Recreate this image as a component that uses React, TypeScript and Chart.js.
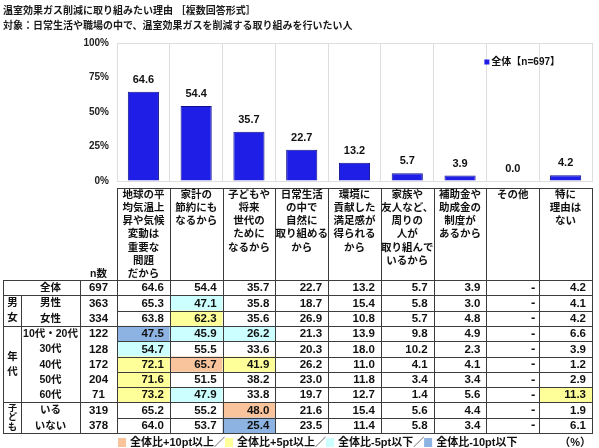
import React, { useEffect, useRef } from 'react';
import { Chart, registerables } from 'chart.js';

Chart.register(...registerables);

const FONT = '"Liberation Sans", "Noto Sans CJK JP", sans-serif';

const titleText = '温室効果ガス削減に取り組みたい理由 ［複数回答形式］';
const subtitleText = '対象：日常生活や職場の中で、温室効果ガスを削減する取り組みを行いたい人';
const seriesLabel = '全体【n=697】';

const categories: string[][] = [
  ['地球の平', '均気温上', '昇や気候', '変動は', '重要な', '問題', 'だから'],
  ['家計の', '節約にも', 'なるから'],
  ['子どもや', '将来', '世代の', 'ために', 'なるから'],
  ['日常生活', 'の中で', '自然に', '取り組める', 'から'],
  ['環境に', '貢献した', '満足感が', '得られる', 'から'],
  ['家族や', '友人など、', '周りの', '人が', '取り組んで', 'いるから'],
  ['補助金や', '助成金の', '制度が', 'あるから'],
  ['その他'],
  ['特に', '理由は', 'ない'],
];

const totalValues = [64.6, 54.4, 35.7, 22.7, 13.2, 5.7, 3.9, 0.0, 4.2];

const yTickValues = [0, 25, 50, 75, 100];

const rowLabels = ['全体', '男性', '女性', '10代・20代', '30代', '40代', '50代', '60代', 'いる', 'いない'];
const rowN = [697, 363, 334, 122, 128, 172, 204, 71, 319, 378];

const rowAll = [64.6, 54.4, 35.7, 22.7, 13.2, 5.7, 3.9, null, 4.2];
const rowMale = [65.3, 47.1, 35.8, 18.7, 15.4, 5.8, 3.0, null, 4.1];
const rowFemale = [63.8, 62.3, 35.6, 26.9, 10.8, 5.7, 4.8, null, 4.2];
const row1020 = [47.5, 45.9, 26.2, 21.3, 13.9, 9.8, 4.9, null, 6.6];
const row30 = [54.7, 55.5, 33.6, 20.3, 18.0, 10.2, 2.3, null, 3.9];
const row40 = [72.1, 65.7, 41.9, 26.2, 11.0, 4.1, 4.1, null, 1.2];
const row50 = [71.6, 51.5, 38.2, 23.0, 11.8, 3.4, 3.4, null, 2.9];
const row60 = [73.2, 47.9, 33.8, 19.7, 12.7, 1.4, 5.6, null, 11.3];
const rowKids = [65.2, 55.2, 48.0, 21.6, 15.4, 5.6, 4.4, null, 1.9];
const rowNoKids = [64.0, 53.7, 25.4, 23.5, 11.4, 5.8, 3.4, null, 6.1];
const rowValues: (number | null)[][] = [rowAll, rowMale, rowFemale, row1020, row30, row40, row50, row60, rowKids, rowNoKids];

const groupLabels = ['男女', '年代', '子ども'];
const groupStarts = [1, 3, 8];
const groupSizes = [2, 5, 2];

const legendTexts = ['全体比+10pt以上／', '全体比+5pt以上／', '全体比-5pt以下／', '全体比-10pt以下'];
const legendColors = ['#F9C39B', '#FFFF99', '#CCFFFF', '#8DB3E2'];
const unitText = '（%）';

const BAR_COLOR = '#1E1EE6';
const BAR_BORDER = '#10108C';
const LINE = '#3c3c3c';
const GRID = '#dedede';
const TEXT = '#111111';

function highlightColor(v: number | null, base: number | null): string | null {
  if (v == null || base == null) return null;
  const d = Math.round((v - base) * 10) / 10;
  if (d >= 10) return legendColors[0];
  if (d >= 5) return legendColors[1];
  if (d <= -10) return legendColors[3];
  if (d <= -5) return legendColors[2];
  return null;
}

const px = (v: number) => Math.round(v) + 0.5;

const valueLabelPlugin = {
  id: 'valueLabels',
  afterDatasetsDraw(chart: any) {
    const ctx = chart.ctx;
    const meta = chart.getDatasetMeta(0);
    const data = chart.data.datasets[0].data as number[];
    ctx.save();
    ctx.font = `bold 11px ${FONT}`;
    ctx.fillStyle = TEXT;
    ctx.textAlign = 'center';
    ctx.textBaseline = 'middle';
    meta.data.forEach((bar: any, i: number) => {
      ctx.fillText(Number(data[i]).toFixed(1), bar.x, bar.y - 12);
    });
    ctx.restore();
  },
};

const tablePlugin = {
  id: 'surveyTable',
  afterDraw(chart: any) {
    const ctx = chart.ctx as CanvasRenderingContext2D;
    const xs = chart.scales.x;
    const ys = chart.scales.y;
    const hdr = chart.scales.hdr;
    const rows = chart.scales.rows;
    const ca = chart.chartArea;

    const colHalf = (xs.getPixelForValue(1) - xs.getPixelForValue(0)) / 2;
    const left = rows.left;
    const groupRight = left + 18;
    const labelRight = left + 77;
    const nRight = ca.left;
    const right = ca.right;
    const headTop = hdr.top + 6.5;
    const rowH = rows.getPixelForValue(1) - rows.getPixelForValue(0);
    const rowTop = (i: number) => rows.getPixelForValue(0) - rowH / 2 + i * rowH;
    const bottom = rowTop(rowLabels.length);

    ctx.save();
    ctx.fillStyle = '#ffffff';
    ctx.fillRect(ca.left - 1, ys.bottom + 1, ca.right - ca.left + 3, chart.height - ys.bottom);

    rowValues.forEach((vals, r) => {
      vals.forEach((v, c) => {
        const col = highlightColor(v, rowValues[0][c]);
        if (col) {
          const cx = xs.getPixelForValue(c);
          ctx.fillStyle = col;
          ctx.fillRect(cx - colHalf, rowTop(r), colHalf * 2, rowH);
        }
      });
    });

    ctx.strokeStyle = LINE;
    ctx.lineWidth = 1;
    const hLine = (x1: number, x2: number, y: number) => {
      ctx.beginPath(); ctx.moveTo(Math.round(x1), px(y)); ctx.lineTo(Math.round(x2) + 1, px(y)); ctx.stroke();
    };
    const vLine = (x: number, y1: number, y2: number) => {
      ctx.beginPath(); ctx.moveTo(px(x), Math.round(y1)); ctx.lineTo(px(x), Math.round(y2) + 1); ctx.stroke();
    };
    hLine(nRight, right, headTop);
    for (let r = 0; r <= rowLabels.length; r++) {
      const isGroupEdge = r === 0 || r === rowLabels.length || groupStarts.includes(r);
      hLine(isGroupEdge ? left : nRight, right, rowTop(r));
    }
    vLine(left, rowTop(0), bottom);
    vLine(groupRight, rowTop(1), bottom);
    vLine(labelRight, rowTop(0), bottom);
    vLine(nRight, headTop, bottom);
    categories.forEach((_, c) => {
      vLine(xs.getPixelForValue(c) + colHalf, headTop, bottom);
    });

    ctx.fillStyle = TEXT;
    ctx.textBaseline = 'middle';
    ctx.textAlign = 'center';
    ctx.font = `bold 10.5px ${FONT}`;
    (chart.data.labels as string[][]).forEach((lines, c) => {
      const cx = xs.getPixelForValue(c);
      lines.forEach((line, k) => {
        ctx.fillText(line, cx, headTop + 7.5 + k * 13.2);
      });
    });
    ctx.fillText('n数', (labelRight + nRight) / 2, hdr.bottom - 6);

    rowLabels.forEach((label, r) => {
      const cy = rowTop(r) + rowH / 2 + 0.5;
      ctx.font = `bold 10.5px ${FONT}`;
      ctx.textAlign = 'center';
      ctx.fillText(label, (groupRight + labelRight) / 2, cy);
      ctx.font = `bold 11.5px ${FONT}`;
      ctx.fillText(String(rowN[r]), (labelRight + nRight) / 2, cy);
    });

    rowValues.forEach((vals, r) => {
      const cy = rowTop(r) + rowH / 2 + 0.5;
      vals.forEach((v, c) => {
        const cx = xs.getPixelForValue(c);
        ctx.textAlign = 'right';
        if (v == null) {
          ctx.font = `bold 13px ${FONT}`;
          ctx.fillText('-', cx + colHalf - 4, cy);
        } else {
          ctx.font = `bold 11.5px ${FONT}`;
          ctx.fillText(v.toFixed(1), cx + colHalf - 6, cy);
        }
      });
    });

    groupLabels.forEach((label, g) => {
      const top = rowTop(groupStarts[g]);
      const bot = rowTop(groupStarts[g] + groupSizes[g]);
      const chars = Array.from(label);
      const step = Math.min(15, (bot - top - 2) / chars.length);
      const size = Math.min(10.5, step * 0.95);
      ctx.font = `bold ${size}px ${FONT}`;
      ctx.textAlign = 'center';
      const cy = (top + bot) / 2;
      chars.forEach((ch, k) => {
        ctx.fillText(ch, (left + groupRight) / 2 + 0.5, cy + (k - (chars.length - 1) / 2) * step);
      });
    });

    const ly = bottom + 9.5;
    let lx = ca.left + 1;
    ctx.font = `bold 11px ${FONT}`;
    ctx.textAlign = 'left';
    legendTexts.forEach((t, i) => {
      ctx.fillStyle = legendColors[i];
      ctx.fillRect(lx, ly - 4.5, 8, 9);
      lx += 12;
      ctx.fillStyle = TEXT;
      ctx.fillText(t, lx, ly);
      lx += ctx.measureText(t).width;
    });
    ctx.textAlign = 'right';
    ctx.fillText(unitText, right - 1, ly);

    const ds = chart.data.datasets[0];
    ctx.font = `bold 10px ${FONT}`;
    ctx.textAlign = 'right';
    const tRight = right - 32;
    const tW = ctx.measureText(ds.label).width;
    const legY = ca.top + 19;
    ctx.fillStyle = TEXT;
    ctx.fillText(ds.label, tRight, legY);
    ctx.fillStyle = ds.backgroundColor;
    ctx.fillRect(tRight - tW - 7, legY - 2.5, 5, 5);

    ctx.restore();
  },
};

export default function App() {
  const ref = useRef<HTMLCanvasElement>(null);

  useEffect(() => {
    document.body.style.margin = '0';
    const canvas = ref.current;
    if (!canvas) return;
    const chart = new Chart(canvas, {
      type: 'bar',
      data: {
        labels: categories,
        datasets: [
          {
            label: seriesLabel,
            data: totalValues,
            backgroundColor: BAR_COLOR,
            borderColor: BAR_BORDER,
            borderWidth: 1,
            barPercentage: 0.59,
            categoryPercentage: 1,
            xAxisID: 'x',
            yAxisID: 'y',
          },
        ],
      },
      options: {
        animation: false,
        responsive: true,
        maintainAspectRatio: false,
        events: [],
        layout: { padding: { left: 3, right: 7, top: 0, bottom: 15 } },
        scales: {
          x: {
            type: 'category',
            position: 'bottom',
            offset: true,
            grid: { color: GRID, drawTicks: false, offset: true },
            border: { display: false },
            ticks: { display: false },
          },
          y: {
            type: 'linear',
            position: 'left',
            stack: 'v',
            stackWeight: 138,
            weight: 3,
            min: 0,
            max: 100,
            afterBuildTicks: (scale: any) => {
              scale.ticks = yTickValues.map((v) => ({ value: v }));
            },
            ticks: {
              padding: 8,
              color: '#222',
              font: { family: FONT, size: 10, weight: 'bold' },
              callback: (v: any) => `${v}%`,
            },
            grid: {
              drawTicks: false,
              color: (c: any) => (c.tick && (c.tick.value === 0 || c.tick.value === 100) ? GRID : 'rgba(0,0,0,0)'),
            },
            border: { display: true, color: GRID },
            afterFit: (scale: any) => {
              scale.width = 114;
              scale.paddingBottom = 0;
            },
          },
          hdr: {
            type: 'category',
            labels: ['header'],
            position: 'left',
            stack: 'v',
            stackWeight: 99,
            weight: 2,
            offset: true,
            display: false,
          },
          rows: {
            type: 'category',
            labels: rowLabels,
            position: 'left',
            stack: 'v',
            stackWeight: 153,
            weight: 1,
            offset: true,
            display: false,
          },
        } as any,
        plugins: {
          legend: { display: false },
          tooltip: { enabled: false },
          title: {
            display: true,
            text: titleText,
            align: 'start',
            color: '#1a1a1a',
            font: { family: FONT, size: 10, weight: 'bold', lineHeight: 1.2 },
            padding: { top: 5, bottom: 1 },
          },
          subtitle: {
            display: true,
            text: subtitleText,
            align: 'start',
            color: '#1a1a1a',
            font: { family: FONT, size: 10, weight: 'bold', lineHeight: 1.2 },
            padding: { top: 2, bottom: 11 },
          },
        },
      } as any,
      plugins: [valueLabelPlugin, tablePlugin],
    });
    return () => chart.destroy();
  }, []);

  return (
    <div style={{ position: 'relative', width: 599, height: 448, background: '#ffffff' }}>
      <canvas ref={ref} />
    </div>
  );
}
